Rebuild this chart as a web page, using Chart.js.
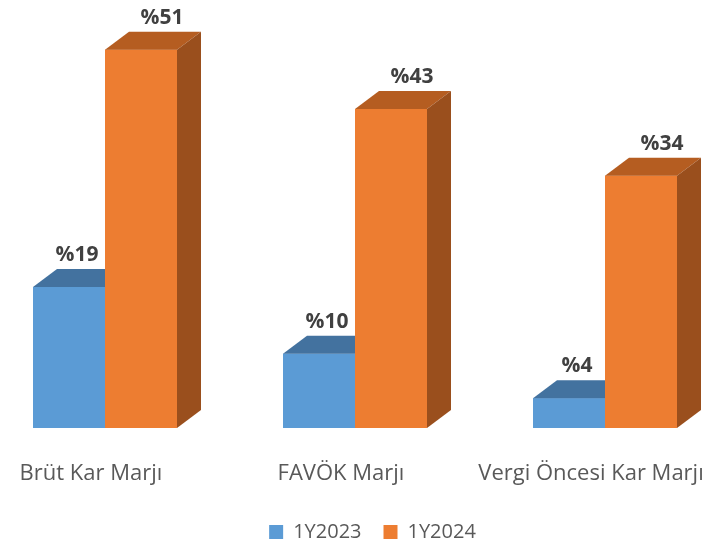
<!DOCTYPE html>
<html>
<head>
<meta charset="utf-8">
<script src="https://cdn.jsdelivr.net/npm/chart.js@4"></script>
<style>
  body { margin: 0; overflow: hidden; background: #fff; }
  .chart__body { position: relative; width: 725px; height: 546px; overflow: hidden; }
  /* холст шире окна: зона графика начинается левее края, как в Excel */
  #myChart { position: absolute; left: -20px; top: 0; }
</style>
</head>
<body>
<div class="chart__body"><canvas id="myChart" width="785" height="552"></canvas></div>
<script>
// Данные
const categories = ["Brüt Kar Marjı", "FAVÖK Marjı", "Vergi Öncesi Kar Marjı"];
const seriesNames = ["1Y2023", "1Y2024"];
const values2023 = [19, 10, 4];
const values2024 = [51, 43, 34];

// 3D-эффект: глубина и цвета граней
const depthX = 24;
const depthY = 18;
const shades = [
  { front: "#5B9BD5", top: "#43729F", side: "#3A6690" },
  { front: "#ED7D31", top: "#B55D21", side: "#9A4F1D" },
];
const labelShift = [8, 21];

// Рисуем кубы заново по порядку серий, чтобы оранжевые лежали поверх синих
const cube3d = {
  id: "cube3d",
  afterDatasetsDraw(chart) {
    const ctx = chart.ctx;
    ctx.save();
    chart.data.datasets.forEach(function (ds, i) {
      const s = shades[i];
      chart.getDatasetMeta(i).data.forEach(function (bar) {
        const p = bar.getProps(["x", "y", "base", "width"], true);
        const l = p.x - p.width / 2;
        const r = p.x + p.width / 2;
        // передняя грань
        ctx.fillStyle = s.front;
        ctx.fillRect(l, p.y, p.width, p.base - p.y);
        // верх
        ctx.fillStyle = s.top;
        ctx.beginPath();
        ctx.moveTo(l, p.y);
        ctx.lineTo(l + depthX, p.y - depthY);
        ctx.lineTo(r + depthX, p.y - depthY);
        ctx.lineTo(r, p.y);
        ctx.closePath();
        ctx.fill();
        // боковая грань
        ctx.fillStyle = s.side;
        ctx.beginPath();
        ctx.moveTo(r, p.y);
        ctx.lineTo(r + depthX, p.y - depthY);
        ctx.lineTo(r + depthX, p.base - depthY);
        ctx.lineTo(r, p.base);
        ctx.closePath();
        ctx.fill();
      });
    });
    // подписи значений
    ctx.font = "bold 21px 'Open Sans'";
    ctx.fillStyle = "#404040";
    ctx.textAlign = "center";
    ctx.textBaseline = "alphabetic";
    chart.data.datasets.forEach(function (ds, i) {
      chart.getDatasetMeta(i).data.forEach(function (bar, j) {
        ctx.fillText("%" + ds.data[j], bar.x + labelShift[i], bar.y - depthY - 8);
      });
    });
    ctx.restore();
  },
};

const data = {
  labels: categories,
  datasets: [
    {
      label: seriesNames[0],
      data: values2023,
      backgroundColor: shades[0].front,
    },
    {
      label: seriesNames[1],
      data: values2024,
      backgroundColor: shades[1].front,
    },
  ],
};

const config = {
  type: "bar",
  data,
  options: {
    responsive: false,
    animation: false,
    datasets: {
      bar: { barPercentage: 1, categoryPercentage: 0.576 },
    },
    layout: { padding: { top: 20 } },
    scales: {
      x: {
        grid: { display: false },
        border: { display: false },
        ticks: {
          font: { family: "'Open Sans'", size: 22 },
          color: "#595959",
          labelOffset: -14,
          padding: 25,
          maxRotation: 0,
          autoSkip: false,
        },
        afterFit(axis) {
          axis.height = 72;
        },
      },
      y: {
        position: "right",
        min: 0,
        max: 55,
        ticks: { display: false },
        grid: { display: false },
        border: { display: false },
        afterFit(axis) {
          axis.width = 35;
        },
      },
    },
    plugins: {
      legend: {
        position: "bottom",
        labels: {
          boxWidth: 14,
          boxHeight: 14,
          padding: 22,
          color: "#595959",
          font: { family: "'Open Sans'", size: 20 },
        },
      },
      tooltip: { enabled: false },
    },
  },
  plugins: [cube3d],
};

const myChart = new Chart(document.getElementById("myChart"), config);
</script>
</body>
</html>
